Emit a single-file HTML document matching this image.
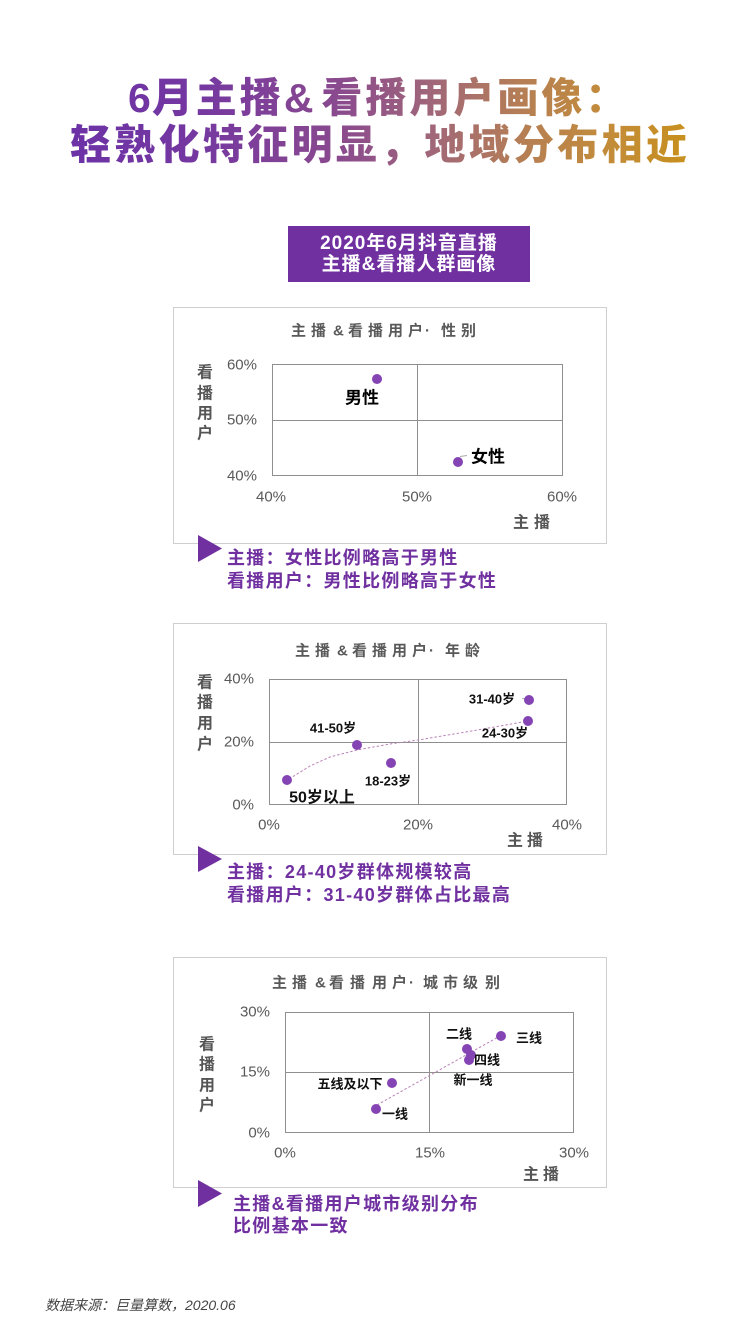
<!DOCTYPE html>
<html>
<head>
<meta charset="utf-8">
<style>
  html,body{margin:0;padding:0;background:#fff;width:750px;height:1334px;overflow:hidden;}
  body{position:relative;font-family:"Liberation Sans","Noto Sans CJK SC",sans-serif;}
  .hl{position:absolute;white-space:nowrap;font-size:41px;font-weight:900;line-height:47px;height:47px;letter-spacing:3px;
      font-family:"Liberation Sans","Noto Sans CJK SC",sans-serif;
      background-image:linear-gradient(90deg,#6c32a6 0px,#6c32a6 70px,#7538a0 200px,#8a4a8e 340px,#a0667a 430px,#b57e55 520px,#c28b3c 600px,#c8901c 690px,#c8901c 750px);
      background-size:750px 47px;background-repeat:no-repeat;
      -webkit-background-clip:text;background-clip:text;color:transparent;-webkit-text-fill-color:transparent;}
  .pbox{position:absolute;left:288px;top:226px;width:242px;height:56px;background:#7030a0;color:#fff;
        font-weight:bold;font-size:19px;line-height:21px;text-align:center;letter-spacing:1px;}
  .pbox div{height:21px;}
  svg text{font-family:"Liberation Sans","Noto Sans CJK SC",sans-serif;dominant-baseline:central;}
  .tt{font-size:15px;font-weight:bold;fill:#595959;}
  .ax{font-size:15px;fill:#595959;}
  .vl{font-size:16px;font-weight:bold;fill:#555;text-anchor:middle;}
  .lb{font-size:13px;font-weight:bold;fill:#111;text-anchor:middle;}
  .sm{font-size:18px;font-weight:bold;fill:#7030a0;letter-spacing:1.3px;}
  .foot{position:absolute;left:45px;top:1296px;font-size:14px;line-height:18px;font-style:italic;color:#444;white-space:nowrap;
        font-family:"Liberation Sans","Noto Sans CJK SC",sans-serif;}
</style>
</head>
<body>

<div class="hl" style="left:128px;top:75px;background-position:-128px 0;"><span style="letter-spacing:1px">6</span>月主播<span style="letter-spacing:8px">&amp;</span>看播用户画像：</div>
<div class="hl" style="left:70px;top:122px;letter-spacing:3.3px;background-position:-70px 0;">轻熟化特征明显，地域分布相近</div>

<div class="pbox">
  <div style="margin-top:7px;">2020年6月抖音直播</div>
  <div>主播&amp;看播人群画像</div>
</div>

<svg width="750" height="1334" style="position:absolute;left:0;top:0;">
  <!-- ========== Chart 1 ========== -->
  <rect x="173.5" y="307.5" width="433" height="236" fill="#fff" stroke="#cfcfcf"/>
  <text class="tt" x="291 311 333 348 368 388 408 425 441 461" y="331">主播&amp;看播用户·性别</text>
  <rect x="272.5" y="364.5" width="290" height="111" fill="none" stroke="#8f8f8f"/>
  <line x1="417.5" y1="364" x2="417.5" y2="476" stroke="#8f8f8f"/>
  <line x1="272" y1="420.5" x2="563" y2="420.5" stroke="#8f8f8f"/>
  <text class="ax" x="257" y="365" text-anchor="end">60%</text>
  <text class="ax" x="257" y="420" text-anchor="end">50%</text>
  <text class="ax" x="257" y="476" text-anchor="end">40%</text>
  <text class="ax" x="271" y="497" text-anchor="middle">40%</text>
  <text class="ax" x="417" y="497" text-anchor="middle">50%</text>
  <text class="ax" x="562" y="497" text-anchor="middle">60%</text>
  <text class="vl" x="205" y="373">看</text>
  <text class="vl" x="205" y="394">播</text>
  <text class="vl" x="205" y="414">用</text>
  <text class="vl" x="205" y="434">户</text>
  <text class="vl" x="521" y="523">主</text>
  <text class="vl" x="542" y="523">播</text>
  <circle cx="377" cy="379" r="5" fill="#8544b3"/>
  <text x="362" y="398" style="font-size:17px;font-weight:bold;fill:#000;text-anchor:middle">男性</text>
  <line x1="460" y1="456.5" x2="467" y2="455.5" stroke="#aaa"/>
  <circle cx="458" cy="462" r="5" fill="#8544b3"/>
  <text x="488" y="457" style="font-size:17px;font-weight:bold;fill:#000;text-anchor:middle">女性</text>
  <polygon points="198,535 198,562 222,548.5" fill="#7030a0"/>
  <text class="sm" x="227" y="558">主播：女性比例略高于男性</text>
  <text class="sm" x="227" y="581">看播用户：男性比例略高于女性</text>

  <!-- ========== Chart 2 ========== -->
  <rect x="173.5" y="623.5" width="433" height="231" fill="#fff" stroke="#cfcfcf"/>
  <text class="tt" x="295 315 337 352 372 392 412 429 445 465" y="651">主播&amp;看播用户·年龄</text>
  <rect x="269.5" y="679.5" width="297" height="125" fill="none" stroke="#8f8f8f"/>
  <line x1="418.5" y1="679" x2="418.5" y2="805" stroke="#8f8f8f"/>
  <line x1="269" y1="742.5" x2="567" y2="742.5" stroke="#8f8f8f"/>
  <text class="ax" x="254" y="679" text-anchor="end">40%</text>
  <text class="ax" x="254" y="742" text-anchor="end">20%</text>
  <text class="ax" x="254" y="805" text-anchor="end">0%</text>
  <text class="ax" x="269" y="825" text-anchor="middle">0%</text>
  <text class="ax" x="418" y="825" text-anchor="middle">20%</text>
  <text class="ax" x="567" y="825" text-anchor="middle">40%</text>
  <text class="vl" x="205" y="683">看</text>
  <text class="vl" x="205" y="703">播</text>
  <text class="vl" x="205" y="724">用</text>
  <text class="vl" x="205" y="745">户</text>
  <text class="vl" x="515" y="841">主</text>
  <text class="vl" x="535" y="841">播</text>
  <polyline points="289,779 310,766 330,757 357,750 390,744 418,740 460,733 500,726 528,721" fill="none" stroke="#b883b8" stroke-width="1" stroke-dasharray="2.5,2"/>
  <line x1="522" y1="698.5" x2="527" y2="699" stroke="#aaa"/>
  <circle cx="529" cy="700" r="5" fill="#8544b3"/>
  <circle cx="528" cy="721" r="5" fill="#8544b3"/>
  <circle cx="357" cy="745" r="5" fill="#8544b3"/>
  <circle cx="391" cy="763" r="5" fill="#8544b3"/>
  <circle cx="287" cy="780" r="5" fill="#8544b3"/>
  <text class="lb" x="492" y="699">31-40岁</text>
  <text class="lb" x="505" y="733">24-30岁</text>
  <text class="lb" x="333" y="728">41-50岁</text>
  <text class="lb" x="388" y="781">18-23岁</text>
  <text x="322" y="798" style="font-size:16px;font-weight:bold;fill:#111;text-anchor:middle">50岁以上</text>
  <polygon points="198,846 198,872 222,859" fill="#7030a0"/>
  <text class="sm" x="227" y="872">主播：24-40岁群体规模较高</text>
  <text class="sm" x="227" y="895">看播用户：31-40岁群体占比最高</text>

  <!-- ========== Chart 3 ========== -->
  <rect x="173.5" y="957.5" width="433" height="230" fill="#fff" stroke="#cfcfcf"/>
  <text class="tt" x="272 292 315 329 350 372 392 409 423 443 463 485" y="983">主播&amp;看播用户·城市级别</text>
  <rect x="285.5" y="1012.5" width="288" height="120" fill="none" stroke="#8f8f8f"/>
  <line x1="429.5" y1="1012" x2="429.5" y2="1133" stroke="#8f8f8f"/>
  <line x1="285" y1="1072.5" x2="574" y2="1072.5" stroke="#8f8f8f"/>
  <text class="ax" x="270" y="1012" text-anchor="end">30%</text>
  <text class="ax" x="270" y="1072" text-anchor="end">15%</text>
  <text class="ax" x="270" y="1133" text-anchor="end">0%</text>
  <text class="ax" x="285" y="1153" text-anchor="middle">0%</text>
  <text class="ax" x="430" y="1153" text-anchor="middle">15%</text>
  <text class="ax" x="574" y="1153" text-anchor="middle">30%</text>
  <text class="vl" x="207" y="1045">看</text>
  <text class="vl" x="207" y="1065">播</text>
  <text class="vl" x="207" y="1086">用</text>
  <text class="vl" x="207" y="1106">户</text>
  <text class="vl" x="531" y="1175">主</text>
  <text class="vl" x="551" y="1175">播</text>
  <line x1="377" y1="1105" x2="500" y2="1036" stroke="#b883b8" stroke-width="1" stroke-dasharray="2.5,2"/>
  <circle cx="501" cy="1036" r="5" fill="#8544b3"/>
  <circle cx="467" cy="1049" r="5" fill="#8544b3"/>
  <circle cx="471" cy="1055" r="5" fill="#8544b3"/>
  <circle cx="469" cy="1060" r="5" fill="#8544b3"/>
  <circle cx="392" cy="1083" r="5" fill="#8544b3"/>
  <circle cx="376" cy="1109" r="5" fill="#8544b3"/>
  <text class="lb" x="459" y="1034">二线</text>
  <text class="lb" x="529" y="1038">三线</text>
  <text class="lb" x="487" y="1060">四线</text>
  <text class="lb" x="473" y="1080">新一线</text>
  <text class="lb" x="350" y="1084">五线及以下</text>
  <text class="lb" x="395" y="1114">一线</text>
  <polygon points="198,1180 198,1207 222,1193.5" fill="#7030a0"/>
  <text class="sm" x="233" y="1204">主播&amp;看播用户城市级别分布</text>
  <text class="sm" x="233" y="1226">比例基本一致</text>
</svg>

<div class="foot">数据来源：巨量算数，2020.06</div>

</body>
</html>
